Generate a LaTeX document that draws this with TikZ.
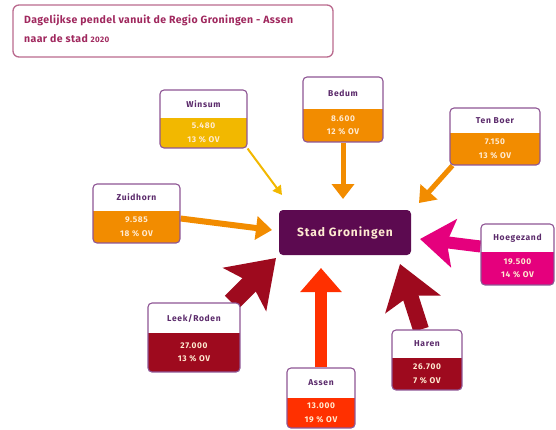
\documentclass[tikz,border=0pt]{standalone}
\usepackage{fontspec}
\setmainfont{Fira Sans}
\newfontfamily\lbl{Fira Sans}[LetterSpace=8]
\newfontfamily\ttl{Fira Sans}[LetterSpace=4]
\usetikzlibrary{arrows.meta,fit,backgrounds}
\definecolor{cyel}{HTML}{F2B800}
\definecolor{corg}{HTML}{F28C00}
\definecolor{cpink}{HTML}{E5007D}
\definecolor{cdred}{HTML}{9E0A1E}
\definecolor{cred}{HTML}{FF3000}
\definecolor{cstad}{HTML}{5C0A50}
\definecolor{cbord}{HTML}{8E5594}
\definecolor{cname}{HTML}{5B2A6B}
\definecolor{ctitle}{HTML}{A0285E}
\definecolor{ctbord}{HTML}{BA6A8E}
\definecolor{cnum}{HTML}{FFEBD2}
\tikzset{
  boxframe/.style={draw=cbord, line width=1.1pt, rounded corners=4pt, inner sep=0pt},
  namelbl/.style={text=cname, font=\lbl\bfseries\fontsize{8.5}{10}\selectfont, inner sep=0pt},
  numlbl/.style={text=cnum, font=\lbl\bfseries\fontsize{8.3}{13.5}\selectfont, align=center, inner sep=0pt},
  flow/.style={line cap=butt}
}
% name, x1, y1, x2, ysplit, y2, colour, label, numbers
\newcommand{\pbox}[9]{%
  \begin{scope}
    \clip[rounded corners=4pt] (#2,#3) rectangle (#4,#6);
    \fill[white] (#2,#3) rectangle (#4,#5);
    \fill[#7] (#2,#5) rectangle (#4,#6);
  \end{scope}
  \node[boxframe, fit={(#2,#3) (#4,#6)}] (#1) {};
  \node[namelbl] (#1-name) at ({(#2+#4)/2},{(#3+#5)/2}) {#8};
  \node[numlbl] (#1-num) at ({(#2+#4)/2},{(#5+#6)/2}) {#9};
}
\begin{document}
\begin{tikzpicture}[x=1pt,y=-1pt]
\useasboundingbox (0,0) rectangle (556,429);

% title
\node[draw=ctbord, line width=1.3pt, rounded corners=6pt, inner sep=0pt, fit={(13,5) (333,57)}] (title) {};
\node[anchor=west, text=ctitle, font=\ttl\bfseries\fontsize{10.5}{12}\selectfont, inner sep=0pt] (t1) at (24,20) {Dagelijkse pendel vanuit de Regio Groningen - Assen};
\node[anchor=west, text=ctitle, font=\ttl\bfseries\fontsize{10.5}{12}\selectfont, inner sep=0pt] (t2) at (24,39) {naar de stad {\fontsize{8}{9}\selectfont 2020}};

% centre
\node[fill=cstad, rounded corners=4pt, inner sep=0pt, fit={(279,210) (411,255)}] (stad) {};
\node[text=cnum, font=\lbl\bfseries\fontsize{12}{14}\selectfont, inner sep=0pt] (stadlbl) at (stad.center) {Stad Groningen};

% boxes
\pbox{winsum}{160}{90}{247}{118}{148}{cyel}{Winsum}{5.480\\13 \% OV}
\pbox{bedum}{303}{77}{383}{109}{142}{corg}{Bedum}{8.600\\12 \% OV}
\pbox{tenboer}{450}{108}{540}{133}{165}{corg}{Ten Boer}{7.150\\13 \% OV}
\pbox{zuidhorn}{93}{184}{180}{211}{243}{corg}{Zuidhorn}{9.585\\18 \% OV}
\pbox{hoeg}{481}{224}{554}{252}{285}{cpink}{Hoegezand}{19.500\\14 \% OV}
\pbox{leek}{148}{303}{240}{333}{372}{cdred}{Leek/Roden}{27.000\\13 \% OV}
\pbox{haren}{392}{330}{462}{358}{390}{cdred}{Haren}{26.700\\7 \% OV}
\pbox{assen}{287}{368}{355}{398}{428}{cred}{Assen}{13.000\\19 \% OV}

% arrow tips near the centre
\coordinate (tW) at (282,195);
\coordinate (tB) at (343,199);
\coordinate (tT) at (419,203);
\coordinate (tZ) at (272,230);
\coordinate (tH) at (420,239);
\coordinate (tL) at (276,258);
\coordinate (tR) at (400,264);
\coordinate (tA) at (321,268);

\begin{pgfonlayer}{background}
\fill[white] (0,0) rectangle (556,429);
\draw[flow, cyel, line width=2pt, -{Triangle[length=9pt,width=10pt]}] (winsum.south east) -- (tW);
\draw[flow, corg, line width=5pt, -{Triangle[length=15pt,width=22pt]}] (bedum.south) -- (tB);
\draw[flow, corg, line width=5pt, -{Triangle[length=15pt,width=22pt]}] ([xshift=3pt]tenboer.south west) -- (tT);
\draw[flow, corg, line width=6pt, -{Triangle[length=16pt,width=23pt]}] ([yshift=-5pt]zuidhorn.east) -- (tZ);
\draw[flow, cpink, line width=12pt, -{Stealth[length=34pt,width=48pt,inset=7pt]}] ([yshift=8pt]hoeg.west) -- (tH);
\draw[flow, cdred, line width=19pt, -{Stealth[length=44pt,width=60pt,inset=9pt]}] ([xshift=-9pt]leek.north east) -- (tL);
\draw[flow, cdred, line width=16pt, -{Stealth[length=42pt,width=57pt,inset=9pt]}] ([xshift=-6pt]haren.north) -- (tR);
\draw[flow, cred, line width=12pt, -{Triangle[length=24pt,width=40pt]}] (assen.north) -- (tA);
\end{pgfonlayer}
\end{tikzpicture}
\end{document}
